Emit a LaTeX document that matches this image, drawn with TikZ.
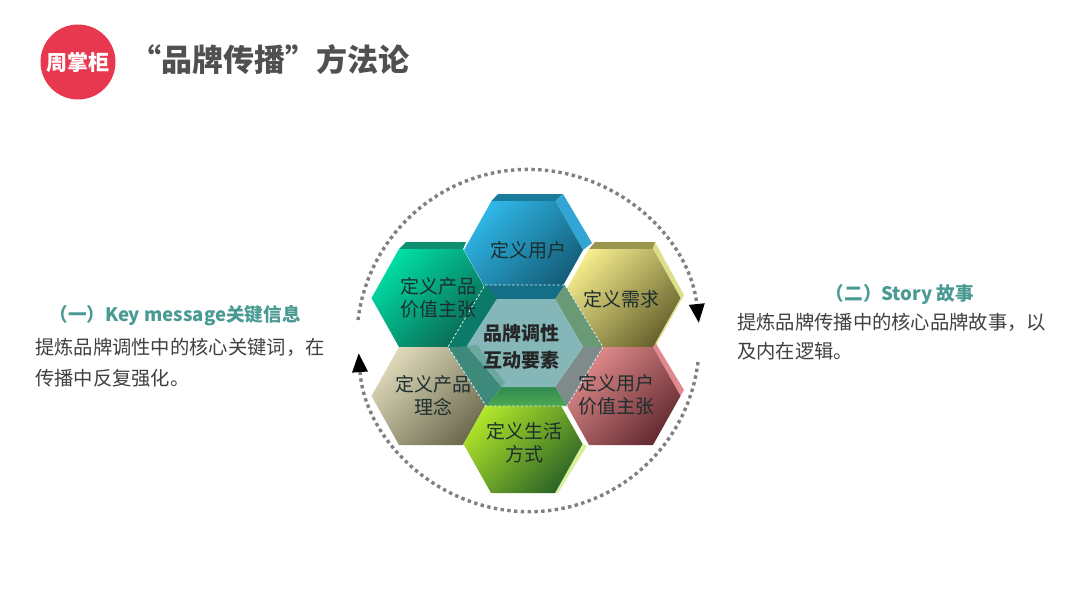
\documentclass[tikz,border=0pt]{standalone}
\usepackage{fontspec}
\setmainfont{Noto Sans CJK SC}
\usetikzlibrary{arrows.meta}
\definecolor{logored}{HTML}{E8384F}
\definecolor{titlegray}{HTML}{505050}
\definecolor{bodygray}{HTML}{404040}
\definecolor{headteal}{HTML}{4A9A94}
\definecolor{hexink}{HTML}{1C2E2E}
\definecolor{bluehi}{HTML}{2FB6E6}\definecolor{bluelo}{HTML}{135A74}
\definecolor{greenhi}{HTML}{00DDA5}\definecolor{greenlo}{HTML}{0A6450}
\definecolor{yellowhi}{HTML}{F5EC8C}\definecolor{yellowlo}{HTML}{69642E}
\definecolor{beigehi}{HTML}{DCD8B8}\definecolor{beigelo}{HTML}{6E6A50}
\definecolor{redhi}{HTML}{E58E8E}\definecolor{redlo}{HTML}{652C32}
\definecolor{limehi}{HTML}{B4EA2A}\definecolor{limelo}{HTML}{2E6626}
\definecolor{bluetop}{HTML}{1A7A9A}\definecolor{blueside}{HTML}{33A5D5}
\definecolor{greentop}{HTML}{0F8F70}
\definecolor{yellowtop}{HTML}{9A9650}\definecolor{yellowside}{HTML}{DEDE8A}
\definecolor{redside}{HTML}{E08A8E}
\definecolor{limeside}{HTML}{D8F09A}
\definecolor{wellface}{HTML}{85B6B8}
\definecolor{walltop}{HTML}{146E85}
\definecolor{wallul}{HTML}{0C7A68}
\definecolor{wallur}{HTML}{6A9A75}
\definecolor{wallll}{HTML}{3D8A7A}
\definecolor{walllight}{HTML}{6AA8A0}
\definecolor{walllr}{HTML}{7F8A8A}
\definecolor{wallbottop}{HTML}{2F8A50}
\definecolor{wallbotlow}{HTML}{4FA850}
\tikzset{
  hexface/.style 2 args={shading=axis,left color=#1,right color=#2,shading angle=45},
  hexlabel/.style={text=hexink,font=\fontsize{19}{23}\selectfont,align=center,inner sep=0pt},
  corelabel/.style={text=black!85,font=\fontsize{19}{27}\selectfont\bfseries,align=center,inner sep=0pt},
  bodytext/.style={text=bodygray,font=\fontsize{19.3}{29}\selectfont,align=left,inner sep=0pt,anchor=west},
  headtext/.style={text=headteal,font=\fontsize{18.6}{23}\selectfont\bfseries,inner sep=0pt},
  ringarrow/.style={draw=gray,line width=3.4pt,dash pattern=on 3.4pt off 3.4pt,
    -{Triangle[length=19pt,width=15pt,color=black]}},
  dashwhite/.style={draw=white!85!cyan,line width=0.8pt,dash pattern=on 2.5pt off 2pt}
}
% #1 cx, #2 cy, #3 bright, #4 dark
\newcommand{\hexbody}[4]{\path[hexface={#3}{#4}] (#1-59.5,#2)--(#1-32,#2-49)--(#1+32,#2-49)--(#1+59.5,#2)--(#1+32,#2+49)--(#1-32,#2+49)--cycle;}
\begin{document}
\begin{tikzpicture}[x=1pt,y=-1pt]
\useasboundingbox (0,0) rectangle (1080,608);
\fill[white] (0,0) rectangle (1080,608);

% logo and title
\node[circle,fill=logored,minimum size=75pt,inner sep=0pt,text=white,font=\fontsize{21}{24}\selectfont\bfseries] (logo) at (78,62) {周掌柜};
\node[text=titlegray,font=\fontsize{31}{36}\selectfont\bfseries,anchor=west,inner sep=0pt] (title) at (130,60) {“品牌传播”方法论};

% ring
\coordinate (ringA) at (358,320);
\coordinate (ringB) at (698,362);
\draw[ringarrow] (ringA) arc[start angle=173,end angle=6,radius=171.5pt];
\draw[ringarrow] (ringB) arc[start angle=-7,end angle=-176,radius=170.5pt];

% extruded strips
\fill[greentop] (399,249)--(406,242)--(466,242)--(463,249)--cycle;
\fill[yellowtop] (589,249)--(595,242)--(655,242)--(653,249)--cycle;
\fill[yellowside] (653,249)--(655,242)--(684,295)--(655,347)--(653,347)--(680.5,298)--cycle;
\fill[redside] (653,347)--(655,342)--(684,390)--(680.5,396)--cycle;
\fill[limeside] (555,493)--(558,493)--(587,446)--(582.5,444)--cycle;
\fill[bluetop] (491.5,201)--(498,194)--(563,194)--(555.5,201)--cycle;
\fill[blueside] (555.5,201)--(563,194)--(592,243)--(583,250)--cycle;

% hexagon faces
\hexbody{431}{298}{greenhi}{greenlo}
\hexbody{621}{298}{yellowhi}{yellowlo}
\hexbody{431}{396}{beigehi}{beigelo}
\hexbody{621}{396}{redhi}{redlo}
\hexbody{523.5}{250}{bluehi}{bluelo}
\hexbody{523}{444}{limehi}{limelo}

% recessed centre: walls
\fill[walltop] (485,285)--(565,285)--(555,299)--(497,299)--cycle;
\fill[wallur] (565,285)--(603,347)--(583,347)--(555,299)--cycle;
\fill[walllr] (603,347)--(567,406)--(555,387)--(583,347)--cycle;
\path[shading=axis,top color=wallbottop,bottom color=wallbotlow] (567,406)--(486,406)--(502,387)--(555,387)--cycle;
\fill[wallll] (486,406)--(448,347)--(467,346)--(502,387)--cycle;
\fill[wallul] (448,347)--(485,285)--(497,299)--(467,346)--cycle;
\fill[wellface] (497,299)--(555,299)--(583,347)--(555,387)--(502,387)--(467,346)--cycle;
\fill[walllight] (467,346)--(477,345)--(505,383)--(502,387)--cycle;
\draw[dashwhite] (485,285)--(565,285)--(603,347)--(567,406)--(486,406)--(448,347)--cycle;

% hexagon labels
\node[hexlabel] (user) at (528,250) {定义用户};
\node[hexlabel] (prodvalue) at (438,298) {定义产品\\价值主张};
\node[hexlabel] (need) at (621,299) {定义需求};
\node[hexlabel] (prodidea) at (433,395) {定义产品\\理念};
\node[hexlabel] (uservalue) at (616,395) {定义用户\\价值主张};
\node[hexlabel] (life) at (524,443) {定义生活\\方式};
\node[corelabel] (core) at (521,347) {品牌调性\\互动要素};

% side texts
\node[headtext] (lefthead) at (175,316) {（一）Key message关键信息};
\node[bodytext] (leftbody) at (35,363) {提炼品牌调性中的核心关键词，在\\[2pt]传播中反复强化。};
\node[headtext] (righthead) at (900,295) {（二）Story 故事};
\node[bodytext] (rightbody) at (737,336.5) {提炼品牌传播中的核心品牌故事，以\\及内在逻辑。};
\end{tikzpicture}
\end{document}
